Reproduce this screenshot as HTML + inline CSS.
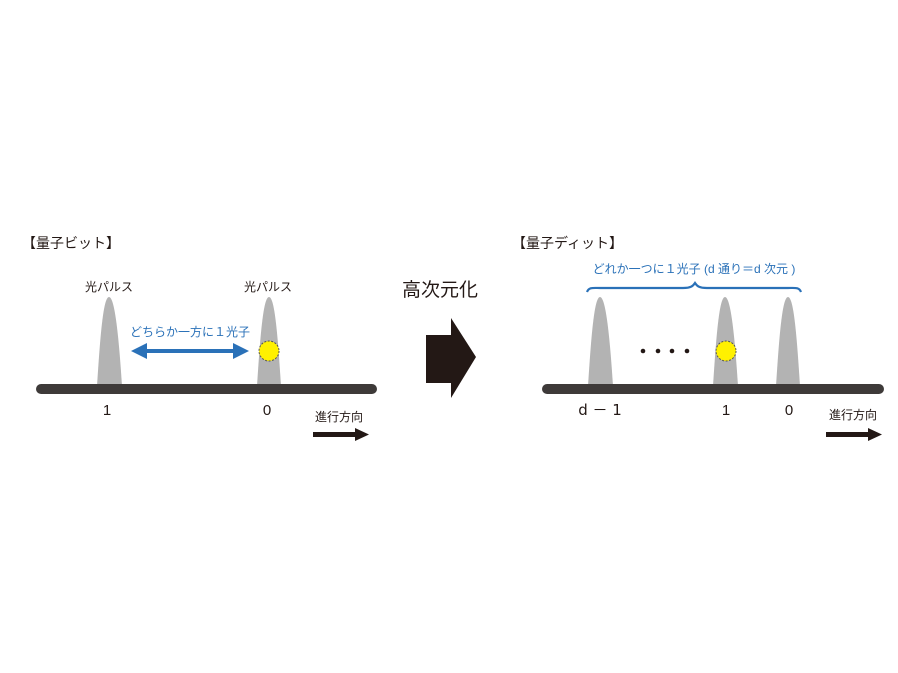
<!DOCTYPE html>
<html><head><meta charset="utf-8"><style>
html,body{margin:0;padding:0;background:#fff;}
svg{display:block;}
text{font-family:"Liberation Sans","Noto Sans CJK JP",sans-serif;}
</style></head><body>
<svg width="898" height="673" viewBox="0 0 898 673" xmlns="http://www.w3.org/2000/svg">
<defs>
<marker id="ah" markerWidth="4" markerHeight="4" refX="2" refY="2" orient="auto-start-reverse" markerUnits="strokeWidth"><path d="M0,0 L4,2 L0,4 z" fill="#2a71b8"/></marker>
</defs>
<!-- LEFT -->
<text x="22" y="248" font-size="14" fill="#231815">【量子ビット】</text>
<text x="109" y="291" font-size="12" fill="#231815" text-anchor="middle">光パルス</text>
<text x="268" y="291" font-size="12" fill="#231815" text-anchor="middle">光パルス</text>
<path d="M97,386 C100,340 103,297 109,297 C115,297 119,340 122,386 Z" fill="#b3b3b3"/>
<path d="M257,386 C260,340 263,297 269,297 C275,297 278,340 281,386 Z" fill="#b3b3b3"/>
<text x="190" y="336" font-size="12" fill="#2a71b8" text-anchor="middle">どちらか一方に１光子</text>
<line x1="139" y1="351" x2="241" y2="351" stroke="#2a71b8" stroke-width="4" marker-start="url(#ah)" marker-end="url(#ah)"/>
<circle cx="269" cy="351" r="10" fill="#fff100" stroke="#555" stroke-width="1" stroke-dasharray="2,1.5"/>
<rect x="36" y="384" width="341" height="10" rx="5" fill="#3e3a39"/>
<text x="107" y="415" font-size="15" fill="#231815" text-anchor="middle">1</text>
<text x="267" y="415" font-size="15" fill="#231815" text-anchor="middle">0</text>
<text x="339" y="421" font-size="12" fill="#231815" text-anchor="middle">進行方向</text>
<path d="M313,432 L355,432 L355,428 L369,434.5 L355,441 L355,437 L313,437 Z" fill="#231815"/>
<!-- CENTER -->
<text x="440" y="296" font-size="19" fill="#231815" text-anchor="middle">高次元化</text>
<path d="M426,335 L451,335 L451,318 L476,357 L451,398 L451,383 L426,383 Z" fill="#231815"/>
<!-- RIGHT -->
<text x="512" y="248" font-size="14" fill="#231815">【量子ディット】</text>
<text x="694" y="273" font-size="12" fill="#2a71b8" text-anchor="middle">どれか一つに１光子 (d 通り＝d 次元 )</text>
<path d="M587,292 C589,287 593,288 600,288 L683,288 C691,288 693,286 695,283 C697,286 699,288 707,288 L788,288 C795,288 799,287 801,292" fill="none" stroke="#2a71b8" stroke-width="2.2"/>
<path d="M588,386 C591,340 594,297 600,297 C606,297 610,340 613,386 Z" fill="#b3b3b3"/>
<path d="M713,386 C716,340 719,297 725,297 C731,297 735,340 738,386 Z" fill="#b3b3b3"/>
<path d="M776,386 C779,340 782,297 788,297 C794,297 797,340 800,386 Z" fill="#b3b3b3"/>
<circle cx="643" cy="351" r="2.3" fill="#231815"/>
<circle cx="658" cy="351" r="2.3" fill="#231815"/>
<circle cx="672" cy="351" r="2.3" fill="#231815"/>
<circle cx="687" cy="351" r="2.3" fill="#231815"/>
<circle cx="726" cy="351" r="10" fill="#fff100" stroke="#555" stroke-width="1" stroke-dasharray="2,1.5"/>
<rect x="542" y="384" width="342" height="10" rx="5" fill="#3e3a39"/>
<text x="600" y="415" font-size="15" fill="#231815" text-anchor="middle" style="font-family:'DejaVu Sans','Noto Sans CJK JP',sans-serif">d － 1</text>
<text x="726" y="415" font-size="15" fill="#231815" text-anchor="middle">1</text>
<text x="789" y="415" font-size="15" fill="#231815" text-anchor="middle">0</text>
<text x="853" y="419" font-size="12" fill="#231815" text-anchor="middle">進行方向</text>
<path d="M826,432 L868,432 L868,428 L882,434.5 L868,441 L868,437 L826,437 Z" fill="#231815"/>
</svg>
</body></html>
